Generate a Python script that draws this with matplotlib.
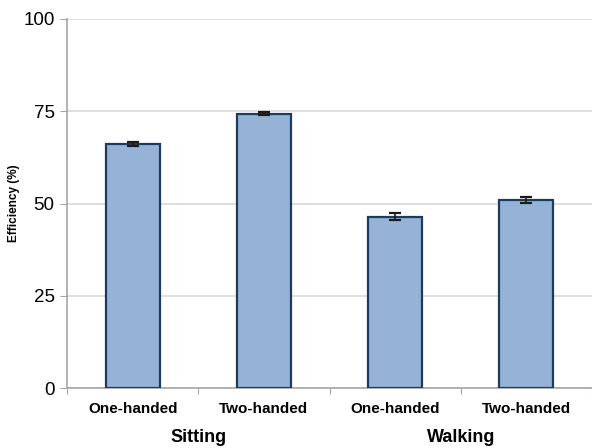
import matplotlib.pyplot as plt
import numpy as np

plt.rcParams['font.family'] = ['Liberation Sans', 'DejaVu Sans']

conditions = ['Sitting', 'Walking']
grips = ['One-handed', 'Two-handed', 'One-handed', 'Two-handed']
efficiency = [66.2, 74.3, 46.5, 51.0]
errors = [0.5, 0.4, 0.9, 0.7]
yticks = [0, 25, 50, 75, 100]

fig = plt.figure(figsize=(5.92, 4.48), dpi=100)
ax = fig.add_axes([0.1132, 0.1333, 0.8868, 0.8243])

x = np.arange(len(efficiency))
ax.bar(x, efficiency, width=0.41, color='#95B3D7', edgecolor='#1F3B5C',
       linewidth=1.6, zorder=3)
ax.errorbar(x, efficiency, yerr=errors, fmt='none', ecolor='#1a1a1a',
            elinewidth=1.2, capsize=4, capthick=1.6, zorder=4)

ax.set_xlim(-0.5, len(efficiency) - 0.5)
ax.set_ylim(0, 100)
ax.set_yticks(yticks)
ax.tick_params(axis='y', labelsize=13.5, length=5, color='#A6A6A6', pad=4)
ax.yaxis.grid(True, color='#D9D9D9', linewidth=1.2, zorder=0)

# category labels in the middle, tick marks on the boundaries
ax.set_xticks(np.arange(-0.5, len(efficiency)), minor=False)
ax.set_xticklabels([])
ax.set_xticks(x, minor=True)
ax.set_xticklabels(grips, minor=True, fontsize=11, fontweight='bold')
ax.tick_params(axis='x', which='major', length=4, color='#A6A6A6')
ax.tick_params(axis='x', which='minor', length=0, pad=10)

for i, cond in enumerate(conditions):
    ax.text(2 * i + 0.5, -0.134, cond, transform=ax.get_xaxis_transform(),
            ha='center', va='center', fontsize=13, fontweight='bold')

ax.set_ylabel('Efficiency (%)', fontsize=8.5, fontweight='bold', labelpad=2)

for side in ['top', 'right']:
    ax.spines[side].set_visible(False)
for side in ['left', 'bottom']:
    ax.spines[side].set_color('#A6A6A6')
    ax.spines[side].set_linewidth(1.2)

fig.savefig('out.png', dpi=100)
